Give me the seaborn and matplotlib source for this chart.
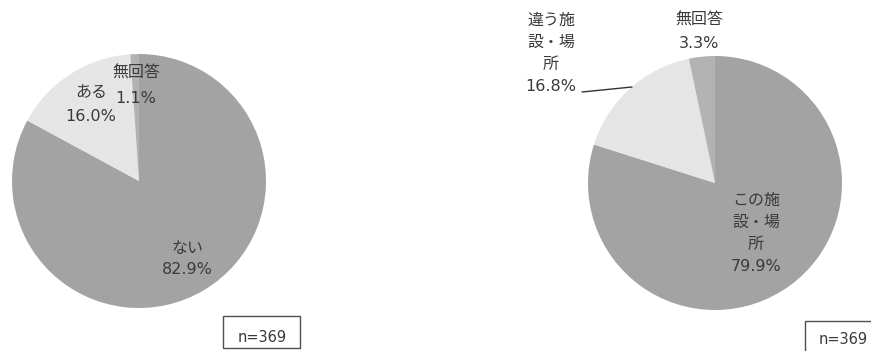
import matplotlib
matplotlib.use("Agg")
import matplotlib.pyplot as plt
from matplotlib.patches import Rectangle
import seaborn as sns

# Survey results (percent of respondents, n=369)
q1_labels = ["ない", "ある", "無回答"]
q1_values = [82.9, 16.0, 1.1]

q2_labels = ["この施設・場所", "違う施設・場所", "無回答"]
q2_values = [79.9, 16.8, 3.3]

sample_size = 369

sns.set_theme(style="white")
plt.rcParams["font.family"] = ["DejaVu Sans", "Noto Sans CJK JP"]

W, H = 871, 351
fig = plt.figure(figsize=(W / 100, H / 100), dpi=100)
fig.patch.set_facecolor("white")

MAIN = "#a3a3a3"
LIGHT = "#e5e5e5"
NOANS = "#b3b3b3"
TEXT = "#3a3a3a"
FS = 11.5


def pie_axes(cx, cy, r):
    return fig.add_axes([(cx - r) / W, (H - cy - r) / H, 2 * r / W, 2 * r / H])


def draw_pie(ax, values, colors):
    ax.pie(values, colors=colors, startangle=90, counterclock=False,
           radius=1.0, wedgeprops=dict(linewidth=0))
    ax.set_xlim(-1.0, 1.0)
    ax.set_ylim(-1.0, 1.0)
    ax.axis("off")


def put_label(lines, x, y0, step, fs=FS):
    for i, line in enumerate(lines):
        fig.text(x / W, 1 - (y0 + i * step) / H, line, ha="center", va="center",
                 fontsize=fs, color=TEXT)


def wrap3(text):
    # break long category names into three-character lines
    return [text[i:i + 3] for i in range(0, len(text), 3)]


def n_box(x0, y0, x1, y1, tx, ty):
    fig.patches.append(Rectangle((x0 / W, 1 - y1 / H), (x1 - x0) / W, (y1 - y0) / H,
                                 transform=fig.transFigure, fill=False,
                                 edgecolor="#505050", linewidth=1.0))
    fig.text(tx / W, 1 - ty / H, f"n={sample_size}", ha="center", va="center",
             fontsize=10.5, color=TEXT)


# Left pie
ax1 = pie_axes(139, 181, 127)
draw_pie(ax1, q1_values, [MAIN, LIGHT, NOANS])
q1_pos = [(187, 248, 22), (91, 93, 24), (136, 73, 25)]
for lab, val, (x, y, s) in zip(q1_labels, q1_values, q1_pos):
    put_label([lab, f"{val:.1f}%"], x, y, s)
n_box(223, 316, 300, 348, 262, 337)

# Right pie
ax2 = pie_axes(715, 183, 127)
draw_pie(ax2, q2_values, [MAIN, LIGHT, NOANS])
q2_pos = [(756, 200, 22.3), (551, 20, 22.3), (699, 20, 23)]
for lab, val, (x, y, s) in zip(q2_labels, q2_values, q2_pos):
    lines = wrap3(lab) if len(lab) > 3 else [lab]
    put_label(lines + [f"{val:.1f}%"], x, y, s)

# leader line for the light slice label
fig.add_artist(plt.Line2D([582 / W, 632 / W], [1 - 92 / H, 1 - 87 / H],
                          transform=fig.transFigure, color="#333333", linewidth=1.0))
n_box(805, 321, 880, 360, 843, 340)

fig.savefig("out.png", dpi=100, facecolor="white")
